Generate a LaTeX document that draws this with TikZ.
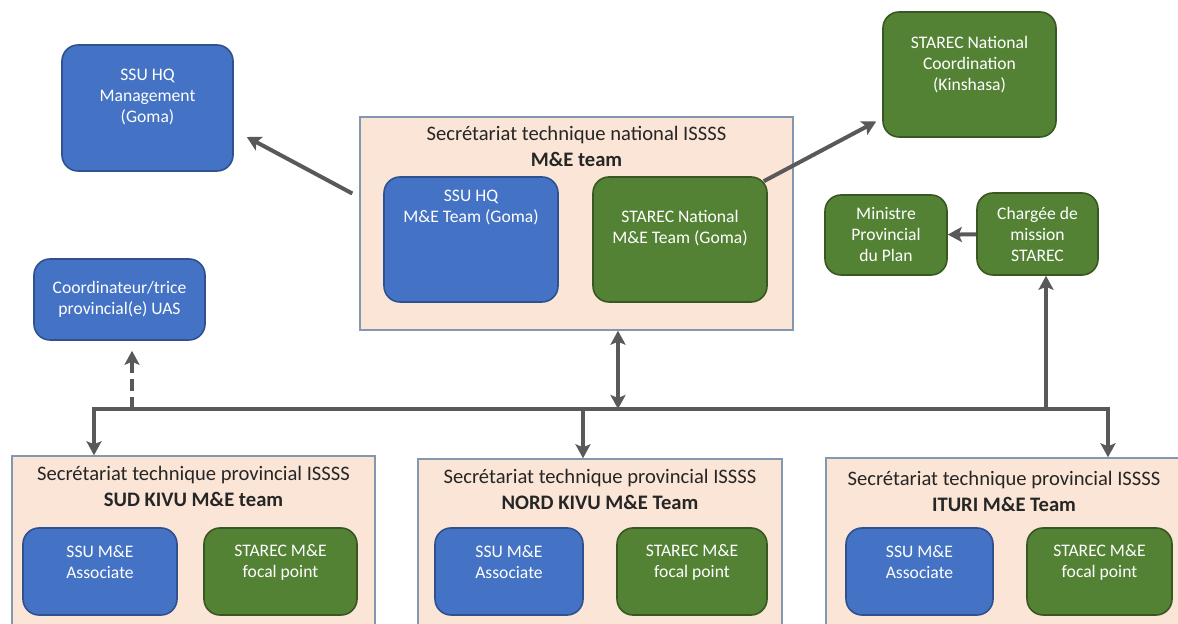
\documentclass[tikz,border=0pt]{standalone}
\usepackage{fontspec}
\setmainfont{Carlito}
\usepackage{tikz}
\usetikzlibrary{arrows.meta,calc}
\definecolor{ssublue}{HTML}{4472C4}
\definecolor{ssuline}{HTML}{2F528F}
\definecolor{starecgreen}{HTML}{548235}
\definecolor{starecline}{HTML}{385723}
\definecolor{peach}{HTML}{FBE5D6}
\definecolor{peachline}{HTML}{8497B0}
\definecolor{arrowgray}{HTML}{595959}

\begin{document}
\begin{tikzpicture}[x=0.5pt,y=-0.5pt,>={Stealth[length=7pt,width=7.5pt,inset=1.5pt]}]
  \tikzstyle{bb} = [draw=ssuline, fill=ssublue, rounded corners=8pt, line width=0.8pt, inner sep=0pt]
  \tikzstyle{gb} = [draw=starecline, fill=starecgreen, rounded corners=8pt, line width=0.8pt, inner sep=0pt]
  \tikzstyle{pb} = [draw=peachline, fill=peach, line width=0.7pt, inner sep=0pt]
  \tikzstyle{tx} = [text=white, align=center, font=\fontsize{8.8}{10.5}\selectfont]
  \tikzstyle{hd} = [text=black!85, align=center, font=\fontsize{10.3}{13}\selectfont]
  \tikzstyle{ln} = [draw=arrowgray, line width=2pt]
  \tikzstyle{ar} = [ln, ->]
  \useasboundingbox (0,0) rectangle (1178,624);
  \clip (0,0) rectangle (1178,624);

  \node[bb, minimum width=85.5pt, minimum height=63pt, label={[tx,yshift=5.5pt]center:{SSU HQ\\Management\\(Goma)}}](mgmt) at (147.5,108){};
  \node[gb, minimum width=86.5pt, minimum height=62.5pt, label={[tx,yshift=5pt]center:{STAREC National\\Coordination\\(Kinshasa)}}](coord) at (969.5,74.5){};
  \node[pb, minimum width=216.5pt, minimum height=106.5pt, label={[hd,yshift=38.75pt]center:{Secrétariat technique national ISSSS\\\textbf{M\&E team}}}](nat) at (576.5,223.5){};
  \node[bb, minimum width=87pt, minimum height=62.5pt, label={[tx,yshift=16pt]center:{SSU HQ\\M\&E Team (Goma)}}](ssuhq) at (471,239.5){};
  \node[gb, minimum width=87pt, minimum height=62.5pt, label={[tx,yshift=5.5pt]center:{STAREC National\\M\&E Team (Goma)}}](starecnat) at (680,239.5){};
  \node[gb, tx, minimum width=61pt, minimum height=40pt](mini) at (886,235){Ministre\\Provincial\\du Plan};
  \node[gb, tx, minimum width=60.5pt, minimum height=41pt](charg) at (1037.5,234){Chargée de\\mission\\STAREC};
  \node[bb, tx, minimum width=85.5pt, minimum height=40.5pt](uas) at (119.5,299.5){Coordinateur/trice\\provincial(e) UAS};

  \node[pb, minimum width=181.5pt, minimum height=92pt, label={[hd,yshift=30.75pt]center:{Secrétariat technique provincial ISSSS\\\textbf{SUD KIVU M\&E team}}}](sud) at (193.5,548){};
  \node[pb, minimum width=182pt, minimum height=90.5pt, label={[hd,yshift=30pt]center:{Secrétariat technique provincial ISSSS\\\textbf{NORD KIVU M\&E Team}}}](nord) at (600,549.5){};
  \node[pb, minimum width=178pt, minimum height=91pt, label={[hd,yshift=29pt]center:{Secrétariat technique provincial ISSSS\\\textbf{ITURI M\&E Team}}}](ituri) at (1004,549){};

  \node[bb, minimum width=77pt, minimum height=43.5pt, label={[tx,yshift=4.5pt]center:{SSU M\&E\\Associate}}](sudssu) at (100,571.5){};
  \node[gb, minimum width=76.5pt, minimum height=43.5pt, label={[tx,yshift=4.5pt]center:{STAREC M\&E\\focal point}}](sudstarec) at (280.5,571.5){};
  \node[bb, minimum width=74pt, minimum height=43.5pt, label={[tx,yshift=4.5pt]center:{SSU M\&E\\Associate}}](nordssu) at (509,571.5){};
  \node[gb, minimum width=75pt, minimum height=43.5pt, label={[tx,yshift=4.5pt]center:{STAREC M\&E\\focal point}}](nordstarec) at (692,571.5){};
  \node[bb, minimum width=73.5pt, minimum height=43.5pt, label={[tx,yshift=4.5pt]center:{SSU M\&E\\Associate}}](iturissu) at (919.5,571.5){};
  \node[gb, minimum width=72.5pt, minimum height=43.5pt, label={[tx,yshift=4.5pt]center:{STAREC M\&E\\focal point}}](ituristarec) at (1099.5,571.5){};

  \coordinate (bl) at (94,409);
  \coordinate (br) at (1108,409);
  \coordinate (bu) at (132,409);
  \coordinate (bn) at (583,409);
  \coordinate (bm) at (618,409);
  \coordinate (bc) at (1046,409);

  \draw[ln, <->] (bl |- sud.north) -- (bl) -- (br) -- (br |- ituri.north);
  \draw[ar] (bn) -- (bn |- nord.north);
  \draw[ln, <->] (bm |- nat.south) -- (bm);
  \draw[ar] (bc) -- (bc |- charg.south);
  \draw[ar, dash pattern=on 6pt off 3pt] (bu) -- ($(bu |- uas.south)+(0,10)$);
  \draw[ar] (charg) -- (mini);
  \draw[ar] ($(nat.west)+(-7,-30)$) -- ($(mgmt.east)+(13,29)$);
  \draw[ar] ($(starecnat.north east)+(-4,5)$) -- ($(coord.west)+(-6,47)$);
\end{tikzpicture}
\end{document}
